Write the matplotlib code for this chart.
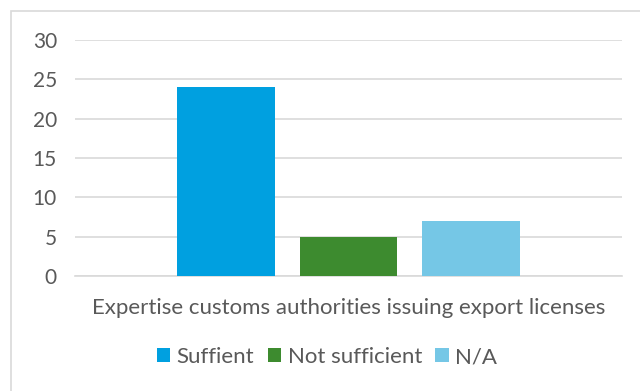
import matplotlib
matplotlib.use("Agg")
import matplotlib.pyplot as plt
from matplotlib.patches import Rectangle

plt.rcParams["font.family"] = ["Lato", "DejaVu Sans"]

category = "Expertise customs authorities issuing export licenses"
series = ["Suffient", "Not sufficient", "N/A"]
values = [24, 5, 7]
colors = ["#00A0E0", "#3D8B2F", "#75C7E6"]
yticks = [0, 5, 10, 15, 20, 25, 30]

text_color = "#595959"
grid_color = "#D9D9D9"

fig = plt.figure(figsize=(6.4, 3.91), dpi=100)
fig.patch.set_facecolor("white")

# light chart-area frame (right and bottom edges run off the canvas)
fig.add_artist(Rectangle((10.5 / 640, -0.05), 1.1, 1.05 - 10.5 / 391,
                         transform=fig.transFigure, fill=False,
                         edgecolor=grid_color, linewidth=1.2))

ax = fig.add_axes([75 / 640, 1 - 276 / 391, 547 / 640, 236 / 391])

bar_w = 0.178
step = 0.224
offsets = [(i - 1) * step for i in range(len(series))]
for off, v, c, name in zip(offsets, values, colors, series):
    ax.bar(off, v, width=bar_w, color=c, label=name, zorder=3)

ax.set_xlim(-0.5, 0.5)
ax.set_ylim(0, 30)
ax.set_yticks(yticks)
ax.set_yticklabels([str(t) for t in yticks], fontsize=15, color=text_color)
ax.yaxis.grid(True, color=grid_color, linewidth=1.2, zorder=0)
ax.set_xticks([0])
ax.set_xticklabels([category], fontsize=16, color=text_color)
ax.tick_params(axis="both", length=0)
ax.tick_params(axis="y", pad=13)
ax.tick_params(axis="x", pad=16)
for s in ["top", "right", "left"]:
    ax.spines[s].set_visible(False)
ax.spines["bottom"].set_color(grid_color)
ax.spines["bottom"].set_linewidth(1.2)

leg = fig.legend(loc="center", bbox_to_anchor=(327 / 640, 1 - 357 / 391), ncol=3,
                 frameon=False, fontsize=16, handlelength=0.6, handleheight=0.6,
                 handletextpad=0.3, columnspacing=0.6)
for t in leg.get_texts():
    t.set_color(text_color)

fig.savefig("out.png", dpi=100)
